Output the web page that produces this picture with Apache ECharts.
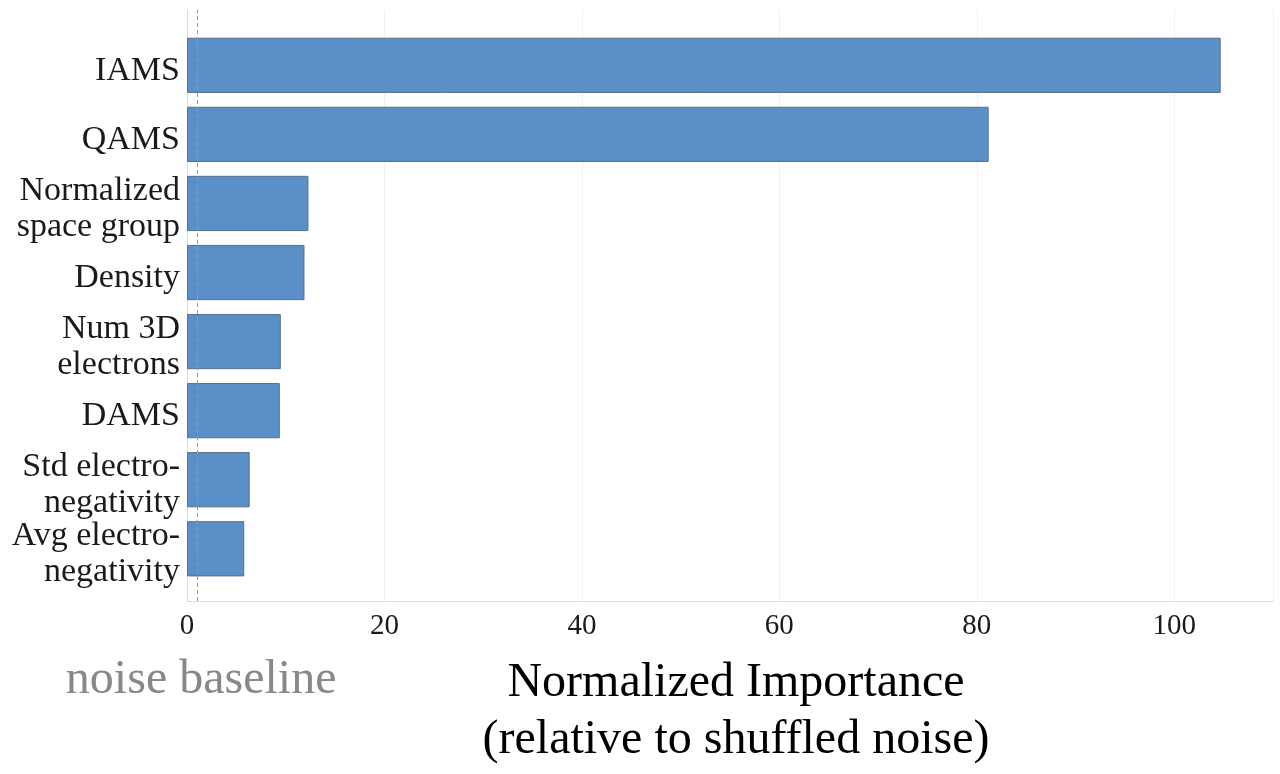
<!DOCTYPE html>
<html>
<head>
<meta charset="utf-8">
<script src="https://cdn.jsdelivr.net/npm/echarts@6/dist/echarts.min.js"></script>
<style>
html,body{margin:0;padding:0;background:#fff;}
#chart{width:1280px;height:774px;}
</style>
</head>
<body>
<div id="chart"></div>
<script>
const categories = ["IAMS", "QAMS", "Normalized\nspace group", "Density", "Num 3D\nelectrons", "DAMS", "Std electro-\nnegativity", "Avg electro-\nnegativity"];
const importance = [104.7, 81.2, 12.3, 11.9, 9.5, 9.4, 6.35, 5.8];
const noiseBaseline = 1.0;
const xTicks = { min: 0, max: 110, interval: 20 };
const xTitle = "Normalized Importance\n(relative to shuffled noise)";
const baselineLabel = "noise baseline";

const FONT = "'Liberation Serif', 'Times New Roman', serif";
const chart = echarts.init(document.getElementById('chart'));
const option = {
  backgroundColor: '#ffffff',
  animation: false,
  grid: [
    { left: 187, right: 7, top: 10, bottom: 171 },
    { left: 187, right: 7, top: 30.8, bottom: 190.7 },
    { left: 187, right: 7, top: 36.3, bottom: 185.2 }
  ],
  xAxis: [
    {
      gridIndex: 0, type: 'value', min: xTicks.min, max: xTicks.max, interval: xTicks.interval,
      axisLine: { show: true, lineStyle: { color: '#dddddd', width: 1 } },
      axisTick: { show: false },
      splitLine: { show: true, lineStyle: { color: '#f0f0f0', width: 1 } },
      axisLabel: { color: '#1a1a1a', fontSize: 29, fontFamily: FONT, margin: 11,
        showMaxLabel: false },
      name: xTitle, nameLocation: 'middle', nameGap: 54,
      nameTextStyle: { color: '#000000', fontSize: 48, fontFamily: FONT, lineHeight: 57,
        padding: [0, 0, 0, 12] }
    },
    { gridIndex: 1, type: 'value', min: xTicks.min, max: xTicks.max, show: false },
    { gridIndex: 2, type: 'value', min: xTicks.min, max: xTicks.max, show: false }
  ],
  yAxis: [
    {
      gridIndex: 0, type: 'value', min: 0, max: 1,
      axisLine: { show: true, lineStyle: { color: '#dddddd', width: 1 } },
      axisTick: { show: false }, axisLabel: { show: false }, splitLine: { show: false }
    },
    {
      gridIndex: 1, type: 'category', data: categories, inverse: true,
      axisLine: { show: false }, axisTick: { show: false }, splitLine: { show: false },
      axisLabel: { show: false }
    },
    {
      gridIndex: 2, type: 'category', data: categories, inverse: true,
      axisLine: { show: false }, axisTick: { show: false }, splitLine: { show: false },
      axisLabel: { interval: 0, color: '#1a1a1a', fontSize: 34, fontFamily: FONT, lineHeight: 36, margin: 7 }
    }
  ],
  series: [
    {
      type: 'scatter', xAxisIndex: 0, yAxisIndex: 0, silent: true,
      data: [[noiseBaseline, 0]], symbolSize: 0,
      markLine: {
        silent: true, symbol: 'none', label: { show: false },
        lineStyle: { color: '#999999', type: [4, 3], width: 1 },
        data: [{ xAxis: noiseBaseline }]
      }
    },
    {
      type: 'bar', xAxisIndex: 1, yAxisIndex: 1, data: importance,
      barCategoryGap: '20%',
      itemStyle: { color: '#5b8fc8', borderColor: '#56708f', borderWidth: 1 }
    }
  ]
};
chart.setOption(option);
const bx = chart.convertToPixel({ xAxisIndex: 0 }, noiseBaseline);
chart.setOption({
  graphic: [{
    type: 'text', left: bx - 131, top: 656,
    style: { text: baselineLabel, fill: '#888888', font: '48px ' + FONT }
  }]
});
</script>
</body>
</html>
